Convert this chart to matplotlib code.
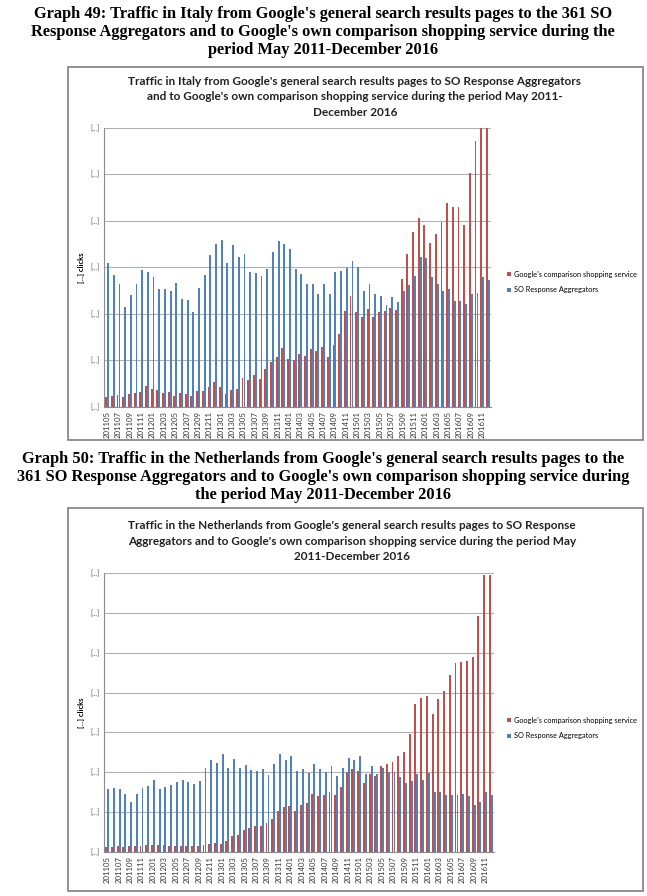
import matplotlib.pyplot as plt
from matplotlib.patches import Rectangle

# months May 2011 - Dec 2016
months = [f"{y}{m:02d}" for y in range(2011, 2017) for m in range(1, 13)][4:]

# values in gridline units (axis labels are redacted "[...]")
italy_google = [0.21, 0.24, 0.26, 0.21, 0.28, 0.30, 0.33, 0.46, 0.38, 0.37, 0.31, 0.32,
                0.24, 0.30, 0.28, 0.24, 0.34, 0.34, 0.42, 0.54, 0.44, 0.29, 0.37, 0.39,
                0.62, 0.58, 0.69, 0.60, 0.81, 0.97, 1.08, 1.27, 1.04, 1.01, 1.14, 1.09,
                1.24, 1.21, 1.28, 1.08, 1.34, 1.58, 2.06, 2.39, 2.04, 1.94, 2.11, 1.94,
                2.04, 2.06, 2.12, 2.09, 2.76, 3.28, 3.76, 4.06, 3.91, 3.52, 3.73, 3.98,
                4.39, 4.31, 4.31, 3.92, 5.03, 5.73, 6.00, 6.00]
italy_so = [3.10, 2.84, 2.64, 2.14, 2.40, 2.65, 2.94, 2.91, 2.79, 2.54, 2.54, 2.49,
            2.66, 2.32, 2.31, 2.04, 2.56, 2.84, 3.26, 3.51, 3.59, 3.10, 3.49, 3.23,
            3.29, 2.91, 2.89, 2.82, 2.96, 3.34, 3.56, 3.51, 3.39, 2.97, 2.87, 2.64,
            2.64, 2.44, 2.64, 2.42, 2.91, 2.92, 2.99, 3.14, 3.02, 2.49, 2.64, 2.44,
            2.39, 2.19, 2.36, 2.25, 2.49, 2.62, 2.81, 3.23, 3.21, 2.79, 2.64, 2.49,
            2.54, 2.29, 2.27, 2.21, 2.43, 2.46, 2.80, 2.73]

nl_google = [0.12, 0.13, 0.16, 0.13, 0.15, 0.16, 0.16, 0.18, 0.18, 0.17, 0.17, 0.16,
             0.14, 0.14, 0.16, 0.16, 0.15, 0.17, 0.20, 0.22, 0.20, 0.28, 0.39, 0.42,
             0.54, 0.59, 0.64, 0.66, 0.73, 0.84, 1.04, 1.12, 1.16, 1.04, 1.19, 1.24,
             1.45, 1.40, 1.43, 1.51, 1.43, 1.62, 2.01, 2.08, 2.02, 1.72, 1.96, 1.91,
             2.17, 2.22, 2.27, 2.40, 2.52, 2.96, 3.71, 3.87, 3.91, 3.47, 3.85, 4.04,
             4.44, 4.75, 4.77, 4.79, 4.89, 5.91, 6.94, 6.94]
nl_so = [1.58, 1.60, 1.58, 1.45, 1.26, 1.45, 1.61, 1.66, 1.81, 1.59, 1.62, 1.69,
         1.76, 1.81, 1.76, 1.71, 1.79, 2.12, 2.32, 2.24, 2.47, 2.12, 2.34, 2.10,
         2.19, 2.06, 2.04, 2.08, 1.94, 2.22, 2.46, 2.32, 2.41, 2.04, 2.08, 1.99,
         2.21, 2.08, 2.01, 2.17, 1.91, 2.11, 2.37, 2.32, 2.42, 1.96, 2.15, 1.96,
         2.12, 2.00, 2.00, 1.88, 1.74, 1.79, 1.96, 1.81, 1.97, 1.51, 1.50, 1.42,
         1.44, 1.43, 1.46, 1.40, 1.17, 1.25, 1.51, 1.44]

captions = [
    "Graph 49: Traffic in Italy from Google's general search results pages to the 361 SO\n"
    "Response Aggregators and to Google's own comparison shopping service during the\n"
    "period May 2011-December 2016",
    "Graph 50: Traffic in the Netherlands from Google's general search results pages to the\n"
    "361 SO Response Aggregators and to Google's own comparison shopping service during\n"
    "the period May 2011-December 2016",
]
titles = [
    "Traffic in Italy from Google's general search results pages to SO Response Aggregators\n"
    "and to Google's own comparison shopping service during the period May 2011-\n"
    "December 2016",
    "Traffic in the Netherlands from Google's general search results pages to SO Response\n"
    "Aggregators and to Google's own comparison shopping service during the period May\n"
    "2011-December 2016",
]
series_labels = ["Google's comparison shopping service", "SO Response Aggregators"]

RED = "#C0504D"
BLUE = "#4F81BD"
W, H = 647, 896

fig = plt.figure(figsize=(W / 100, H / 100), dpi=100)


def fx(px):
    return px / W


def fy(py):
    return 1 - py / H


def panel(caption, cap_y, box, title, title_xy, plot_box, nticks, red, blue, leg_y):
    fig.text(fx(323), fy(cap_y), caption, ha="center", va="center",
             family="Liberation Serif", fontweight="bold", fontsize=11.8,
             linespacing=1.15)
    l, t, r, b = box
    fig.patches.append(Rectangle((fx(l), fy(b)), fx(r - l), (b - t) / H,
                                 transform=fig.transFigure, fill=False,
                                 edgecolor="#7f7f7f", linewidth=1.2))
    fig.text(fx(title_xy[0]), fy(title_xy[1]), title, ha="center", va="center",
             family="Lato", fontweight="bold", fontsize=8.5, color="#222222",
             linespacing=1.5)
    pl, pt, pr, pb = plot_box
    ax = fig.add_axes([fx(pl), fy(pb), fx(pr - pl), (pb - pt) / H])
    x = list(range(len(months)))
    ax.bar([i - 0.17 for i in x], red, width=0.33, color=RED, label=series_labels[0])
    ax.bar([i + 0.17 for i in x], blue, width=0.33, color=BLUE, label=series_labels[1])
    ax.set_xlim(-0.55, len(months) - 0.45)
    ax.set_ylim(0, nticks)
    ax.set_yticks(range(nticks + 1))
    ax.set_yticklabels(["[...]"] * (nticks + 1), fontsize=5, color="#555555", family="Lato")
    ax.set_xticks(x[::2])
    ax.set_xticklabels(months[::2], rotation=90, fontsize=5.6, color="#333333", family="Lato")
    ax.tick_params(length=0, pad=3)
    ax.grid(axis="y", color="#b0b0b0", linewidth=0.8)
    ax.set_axisbelow(True)
    for s in ["top", "right"]:
        ax.spines[s].set_visible(False)
    for s in ["left", "bottom"]:
        ax.spines[s].set_color("#8c8c8c")
    ax.set_ylabel("[...] clicks", fontsize=5.5, fontweight="bold", family="Lato", labelpad=4)
    ax.legend(loc="upper left", bbox_to_anchor=(fx(500), fy(leg_y)),
              bbox_transform=fig.transFigure, frameon=False,
              handlelength=0.6, handleheight=0.6, handletextpad=0.4,
              labelspacing=1.2, prop={"family": "Lato", "size": 5.3})
    return ax


panel(captions[0], 32, (68, 67, 643, 440), titles[0], (355, 97),
      (104, 128, 491, 407), 6, italy_google, italy_so, 264)
panel(captions[1], 477, (68, 508, 643, 891), titles[1], (352, 541),
      (104, 573, 494, 852), 7, nl_google, nl_so, 710)

fig.savefig("out.png", dpi=100)
